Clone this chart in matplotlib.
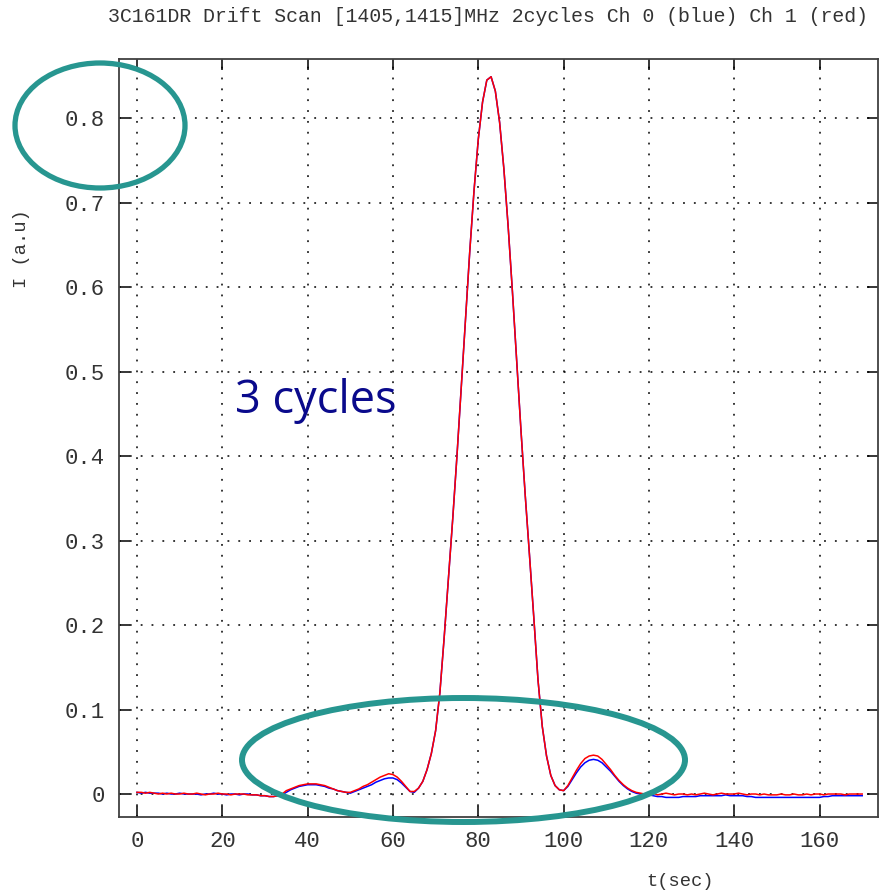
import numpy as np
import matplotlib
matplotlib.use('Agg')
import matplotlib.pyplot as plt
from matplotlib.patches import Ellipse

# #############################################################################
# Data (1 s sampling)
t = np.arange(0, 171)

ch1_red = [
    0.002, 0.002, 0.001, 0.002, 0.001, 0.000, 0.001, 0.000, 0.001, 0.000,
    0.000, 0.001, 0.000, 0.000, 0.001, 0.000, -0.001, 0.000, 0.000, 0.001,
    0.000, 0.000, -0.001, 0.000, 0.000, 0.000, -0.001, -0.001, -0.001, -0.002,
    -0.002, -0.003, -0.003, -0.002, 0.000, 0.004, 0.006, 0.008, 0.010, 0.011,
    0.012, 0.012, 0.012, 0.011, 0.010, 0.008, 0.006, 0.004, 0.003, 0.002,
    0.002, 0.004, 0.006, 0.009, 0.011, 0.014, 0.017, 0.020, 0.022, 0.024,
    0.023, 0.020, 0.015, 0.009, 0.003, 0.003, 0.007, 0.015, 0.029, 0.048,
    0.075, 0.120, 0.185, 0.255, 0.325, 0.400, 0.480, 0.562, 0.642, 0.714,
    0.775, 0.819, 0.845, 0.849, 0.832, 0.795, 0.740, 0.672, 0.595, 0.513,
    0.431, 0.354, 0.283, 0.210, 0.135, 0.080, 0.045, 0.022, 0.010, 0.005,
    0.004, 0.010, 0.019, 0.028, 0.036, 0.042, 0.045, 0.046, 0.045, 0.041,
    0.035, 0.029, 0.022, 0.016, 0.011, 0.007, 0.004, 0.002, 0.001, 0.000,
    0.000, 0.001, -0.001, 0.000, 0.001, 0.000, -0.001, 0.000, 0.000, -0.001,
    0.000, -0.001, 0.000, 0.001, 0.000, -0.001, 0.000, 0.001, 0.000, 0.000,
    0.000, 0.001, 0.000, -0.001, 0.000, 0.000, -0.001, 0.000, -0.001, -0.001,
    -0.001, 0.000, -0.001, -0.001, 0.000, -0.001, -0.001, 0.000, -0.001, 0.000,
    0.000, -0.001, 0.000, 0.000, 0.000, 0.000, -0.001, 0.000, 0.000, 0.000, 0.000,
]

ch0_blue = [
    0.002, 0.001, 0.002, 0.001, 0.001, 0.001, 0.000, 0.001, 0.000, 0.000,
    0.001, 0.000, 0.000, 0.000, 0.000, -0.001, 0.000, 0.000, 0.001, 0.000,
    0.000, -0.001, 0.000, 0.000, -0.001, 0.000, 0.000, -0.001, -0.001, -0.002,
    -0.002, -0.003, -0.003, -0.002, -0.001, 0.002, 0.005, 0.007, 0.009, 0.010,
    0.011, 0.011, 0.011, 0.010, 0.009, 0.007, 0.006, 0.004, 0.003, 0.002,
    0.001, 0.003, 0.005, 0.007, 0.009, 0.011, 0.014, 0.016, 0.018, 0.019,
    0.019, 0.017, 0.013, 0.008, 0.003, 0.002, 0.007, 0.015, 0.029, 0.048,
    0.075, 0.120, 0.185, 0.255, 0.325, 0.400, 0.480, 0.562, 0.642, 0.714,
    0.775, 0.819, 0.845, 0.849, 0.832, 0.795, 0.740, 0.672, 0.595, 0.513,
    0.431, 0.354, 0.283, 0.210, 0.135, 0.080, 0.045, 0.022, 0.010, 0.005,
    0.004, 0.009, 0.017, 0.025, 0.032, 0.037, 0.040, 0.041, 0.040, 0.037,
    0.032, 0.027, 0.021, 0.015, 0.010, 0.006, 0.003, 0.001, 0.000, -0.001,
    -0.001, -0.002, -0.003, -0.003, -0.004, -0.004, -0.004, -0.004, -0.003, -0.003,
    -0.003, -0.003, -0.002, -0.002, -0.002, -0.002, -0.002, -0.002, -0.001, -0.002,
    -0.002, -0.002, -0.002, -0.003, -0.003, -0.004, -0.004, -0.004, -0.004, -0.004,
    -0.004, -0.004, -0.004, -0.004, -0.004, -0.004, -0.004, -0.004, -0.004, -0.004,
    -0.004, -0.003, -0.003, -0.002, -0.002, -0.002, -0.002, -0.002, -0.002, -0.002, -0.002,
]

xticks = [0, 20, 40, 60, 80, 100, 120, 140, 160]
yticks = [0, 0.1, 0.2, 0.3, 0.4, 0.5, 0.6, 0.7, 0.8]
ytick_labels = ['0', '0.1', '0.2', '0.3', '0.4', '0.5', '0.6', '0.7', '0.8']

title = '3C161DR Drift Scan [1405,1415]MHz 2cycles Ch 0 (blue) Ch 1 (red)'
mono = 'Liberation Mono'
teal = '#279690'
txt = '#333333'

# #############################################################################
# Plot
W, H = 887, 894
fig = plt.figure(figsize=(W / 100, H / 100), dpi=100)
ax = fig.add_axes([119 / W, 1 - 817 / H, (878 - 119) / W, (817 - 59) / H])

ax.plot(t, ch0_blue, color='blue', lw=1.1)
ax.plot(t, ch1_red, color='red', lw=1.1)

ax.set_xlim(-4.22, 173.7)
ax.set_ylim(-0.0272, 0.870)
ax.set_xticks(xticks)
ax.set_xticklabels([str(x) for x in xticks])
ax.set_yticks(yticks)
ax.set_yticklabels(ytick_labels)

ax.grid(True, color='black', lw=1.1, linestyle=(0, (1.2, 5.9)))
ax.tick_params(direction='in', length=8, width=1.1, color='black',
               top=True, right=True, labelsize=16, pad=10)
for lab in ax.get_xticklabels() + ax.get_yticklabels():
    lab.set_family(mono)
    lab.set_color(txt)
for s in ax.spines.values():
    s.set_color('#404040')
    s.set_linewidth(1.3)

fig.text(868 / W, 1 - 17 / H, title, ha='right', va='center',
         family=mono, fontsize=14.3, color=txt)
fig.text(680 / W, 1 - 881 / H, 't(sec)', ha='center', va='center',
         family=mono, fontsize=13.5, color=txt)
fig.text(22 / W, 1 - 249 / H, 'I (a.u)', ha='center', va='center',
         rotation=90, family=mono, fontsize=13.5, color=txt)

fig.text(235 / W, 1 - 413 / H, '3 cycles', ha='left', va='baseline',
         family='Open Sans', fontsize=32.5, color='#0a0a8c')

fig.add_artist(Ellipse((100 / W, 1 - 125.5 / H), 170 / W, 125 / H,
                       transform=fig.transFigure, fill=False, ec=teal, lw=3.8))
fig.add_artist(Ellipse((463.5 / W, 1 - 760 / H), 443 / W, 124 / H,
                       transform=fig.transFigure, fill=False, ec=teal, lw=4.3))

fig.savefig('out.png', dpi=100)
